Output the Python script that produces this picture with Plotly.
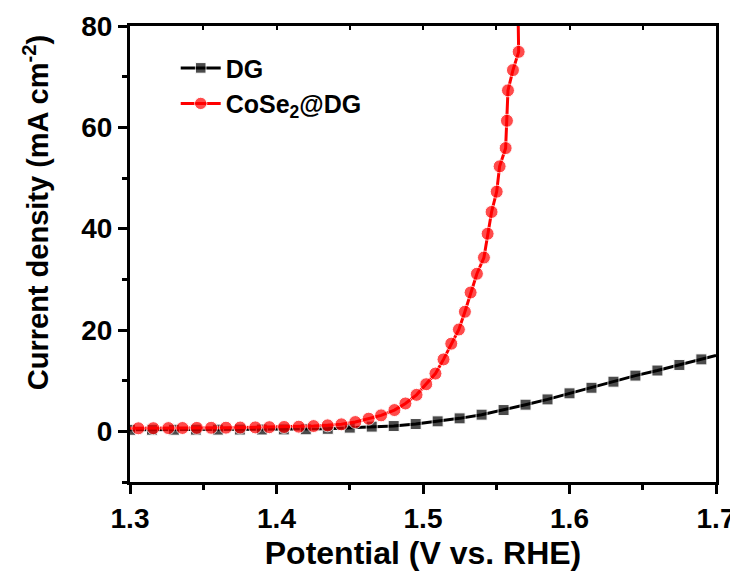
import plotly.graph_objects as go

# ---- data ----
dg_potential = [1.300, 1.315, 1.330, 1.345, 1.360, 1.375, 1.390, 1.405, 1.420,
                1.435, 1.450, 1.465, 1.480, 1.495, 1.510, 1.525, 1.540, 1.555,
                1.570, 1.585, 1.600, 1.615, 1.630, 1.645, 1.660, 1.675, 1.690]
dg_current = [0.30, 0.31, 0.32, 0.33, 0.34, 0.35, 0.36, 0.38, 0.40,
              0.50, 0.73, 0.93, 1.04, 1.44, 1.97, 2.56, 3.29, 4.20,
              5.26, 6.30, 7.50, 8.60, 9.80, 11.0, 12.0, 13.1, 14.2]
dg_line_end = (1.700, 15.0)

cose_potential = [1.3057, 1.3159, 1.3262, 1.3358, 1.3456, 1.3554, 1.3655, 1.3752,
                  1.3855, 1.3951, 1.4052, 1.4152, 1.4253, 1.4349, 1.4443, 1.4538,
                  1.4629, 1.4714, 1.4805, 1.4880, 1.4956, 1.5022, 1.5085, 1.5140,
                  1.5193, 1.5245, 1.5286, 1.5325, 1.5368, 1.5416, 1.5441, 1.5468,
                  1.5503, 1.5523, 1.5564, 1.5573, 1.5580, 1.5614, 1.5653]
cose_current = [0.60, 0.62, 0.64, 0.66, 0.68, 0.70, 0.72, 0.75,
                0.78, 0.82, 0.86, 0.92, 1.04, 1.18, 1.38, 1.83,
                2.50, 3.15, 4.20, 5.50, 7.20, 9.30, 11.4, 14.2,
                17.3, 20.1, 23.6, 27.4, 31.1, 34.3, 39.0, 43.3,
                47.3, 52.3, 55.9, 61.3, 67.3, 71.3, 74.9]
cose_line_start = (1.300, 0.60)
cose_line_end = (1.5648, 84.0)

x_ticks = [1.3, 1.4, 1.5, 1.6, 1.7]
y_ticks = [0, 20, 40, 60, 80]
x_range = [1.3, 1.7]
y_range = [-10, 80]

FONT = "Liberation Sans, Arial, sans-serif"

fig = go.Figure()

# DG (black squares)
dg_x = dg_potential + [dg_line_end[0]]
dg_y = dg_current + [dg_line_end[1]]
dg_sizes = [11] * len(dg_potential) + [0]
fig.add_trace(go.Scatter(
    x=dg_x, y=dg_y, mode="lines+markers", name="DG",
    line=dict(color="black", width=3),
    marker=dict(symbol="square", size=dg_sizes, color="black"),
))

# CoSe2@DG (red circles)
cs_x = [cose_line_start[0]] + cose_potential + [cose_line_end[0]]
cs_y = [cose_line_start[1]] + cose_current + [cose_line_end[1]]
cs_sizes = [0] + [13] * len(cose_potential) + [0]
fig.add_trace(go.Scatter(
    x=cs_x, y=cs_y, mode="lines+markers", name="CoSe<sub>2</sub>@DG",
    line=dict(color="#ff0000", width=3),
    marker=dict(symbol="circle", size=cs_sizes, color="#ff0000"),
))

# invisible trace for the top (inward-tick) axis
fig.add_trace(go.Scatter(x=x_range, y=y_range, xaxis="x2", mode="markers",
                         marker=dict(opacity=0), showlegend=False, hoverinfo="skip"))

# the page body adds an 8px offset, so the figure is 8px smaller and margins compensate
fig.update_layout(
    width=730, height=570,
    margin=dict(l=122, r=22, t=18, b=96, autoexpand=False),
    paper_bgcolor="white", plot_bgcolor="white",
    font=dict(family=FONT, color="black", size=28, weight="bold"),
    showlegend=True,
    legend=dict(x=0.078, y=0.958, xanchor="left", yanchor="top",
                bgcolor="rgba(0,0,0,0)", font=dict(size=25, family=FONT, weight="bold"),
                itemwidth=40, tracegroupgap=0),
    xaxis=dict(
        range=x_range, tickvals=x_ticks, ticktext=[f"{v:.1f}" for v in x_ticks],
        showgrid=False, zeroline=False, automargin=False,
        showline=True, linecolor="black", linewidth=3, mirror=True,
        ticks="outside", ticklen=9, tickwidth=3, tickcolor="black",
        minor=dict(dtick=0.05, tick0=1.3, ticks="outside", ticklen=5, tickwidth=3, tickcolor="black"),
        tickfont=dict(size=28, family=FONT, weight="bold"),
        title=dict(text="Potential (V vs. RHE)", font=dict(size=32, family=FONT, weight="bold"), standoff=10),
    ),
    xaxis2=dict(
        range=x_range, overlaying="x", side="top", anchor="y", automargin=False,
        tickvals=x_ticks, showticklabels=False, showgrid=False, zeroline=False,
        showline=False, ticks="inside", ticklen=4, tickwidth=2, tickcolor="black",
        minor=dict(dtick=0.05, tick0=1.3, ticks="inside", ticklen=4, tickwidth=2, tickcolor="black"),
    ),
    yaxis=dict(
        range=y_range, tickvals=y_ticks,
        showgrid=False, zeroline=False, automargin=False,
        showline=True, linecolor="black", linewidth=3, mirror=True,
        ticks="outside", ticklen=9, tickwidth=3, tickcolor="black",
        minor=dict(dtick=10, tick0=0, ticks="outside", ticklen=5, tickwidth=3, tickcolor="black"),
        tickfont=dict(size=28, family=FONT, weight="bold"),
    ),
    annotations=[dict(
        text="Current density (mA cm<sup>-2</sup>)", textangle=-90,
        xref="paper", yref="paper", x=-0.16, y=0.59,
        xanchor="center", yanchor="middle", showarrow=False,
        font=dict(size=29, family=FONT, weight="bold"),
    )],
)

fig.write_html("out.html")
